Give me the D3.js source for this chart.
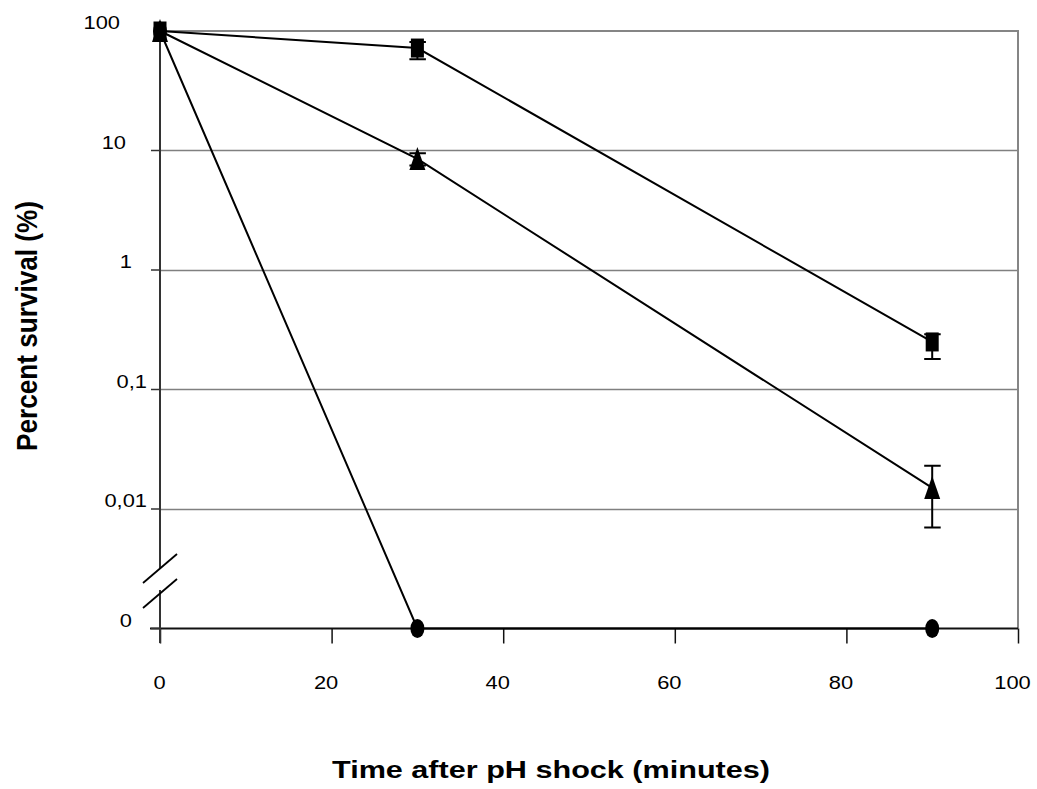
<!DOCTYPE html>
<html>
<head>
<meta charset="utf-8">
<script src="https://cdn.jsdelivr.net/npm/d3@7/dist/d3.min.js"></script>
<style>
  html, body { margin: 0; padding: 0; background: #fff; }
  svg { display: block; font-family: "Liberation Sans", Arial, sans-serif; }
</style>
</head>
<body>
<svg id="chart" width="1037" height="789"></svg>
<script>
// Time points (minutes after the pH shock)
const timeMin = [0, 30, 90];

// Survival (%) per strain, with upper / lower error bounds (null = no bar)
const squareSurvival   = [100, 72, 0.25];
const squareErrHigh    = [null, 81, 0.29];
const squareErrLow     = [null, 58, 0.18];

const triangleSurvival = [100, 8.5, 0.015];
const triangleErrHigh  = [null, 9.5, 0.023];
const triangleErrLow   = [null, 7.5, 0.007];

const circleSurvival   = [100, 0, 0];

// Axis ticks
const xTickValues = [0, 20, 40, 60, 80, 100];
const yTickValues = [100, 10, 1, 0.1, 0.01, 0];
const yTickLabels = ["100", "10", "1", "0,1", "0,01", "0"];

// ---- layout ----
const svg = d3.select("#chart");
const plotLeft = 160, plotRight = 1018, plotTop = 31, plotBottom = 628.5;
const breakFloor = 0.001;   // zero is drawn one decade below 0.01, past the axis break

const x = d3.scaleLinear().domain([0, 100]).range([plotLeft, plotRight]);
const yLog = d3.scaleLog().domain([breakFloor, 100]).range([plotBottom, plotTop]);
const y = v => (v > 0 ? yLog(v) : yLog(breakFloor));

// widen glyphs horizontally
function stretch(sel, k) {
  sel.each(function () {
    const w = this.getComputedTextLength();
    this.setAttribute("textLength", w * k);
    this.setAttribute("lengthAdjust", "spacingAndGlyphs");
  });
}

// gridlines (decades above the break)
svg.append("g").selectAll("line")
  .data(yTickValues.filter(v => v > 0 && v < 100))
  .join("line")
  .attr("x1", plotLeft).attr("x2", plotRight)
  .attr("y1", d => Math.round(y(d)) + 0.5).attr("y2", d => Math.round(y(d)) + 0.5)
  .attr("stroke", "#808080").attr("stroke-width", 1.5);

// plot frame: top and right
svg.append("path")
  .attr("d", `M${plotLeft},${plotTop}H${plotRight}V${plotBottom}`)
  .attr("fill", "none").attr("stroke", "#858585").attr("stroke-width", 2);

// bottom axis
const xAxis = d3.axisBottom(x).tickValues(xTickValues).tickSize(15).tickPadding(32)
  .tickFormat(d3.format("d"));
const gx = svg.append("g").attr("transform", `translate(0,${plotBottom})`).call(xAxis);
gx.select(".domain").attr("d", `M150,0H${plotRight}`).attr("stroke", "#111").attr("stroke-width", 2);
gx.selectAll(".tick line").attr("stroke", "#111").attr("stroke-width", 1.5);
gx.selectAll(".tick text")
  .attr("font-size", 19).attr("fill", "#000")
  .attr("font-family", "Liberation Sans, Arial, sans-serif")
  .attr("dx", d => (d === 0 ? -1 : -6))
  .call(stretch, 1.15);

// left axis with a break between 0,01 and 0
const breakTop = 568, breakBottom = 590;
svg.append("path")
  .attr("d", `M${plotLeft},${plotTop}V${breakTop}M${plotLeft},${breakBottom}V643`)
  .attr("stroke", "#333").attr("stroke-width", 2).attr("fill", "none");
svg.append("g").selectAll("line")
  .data(yTickValues.filter(v => v < 100))
  .join("line")
  .attr("x1", 151).attr("x2", plotLeft)
  .attr("y1", d => y(d)).attr("y2", d => y(d))
  .attr("stroke", "#333").attr("stroke-width", 1.5);
// break marks
svg.append("g").selectAll("line")
  .data([0, 25])
  .join("line")
  .attr("x1", 143).attr("x2", 177)
  .attr("y1", d => 583 + d).attr("y2", d => 554 + d)
  .attr("stroke", "#000").attr("stroke-width", 1.8);

// y tick labels
const labelRight = { "100": 120, "10": 126, "1": 132, "0,1": 147, "0,01": 147, "0": 132 };
svg.append("g").selectAll("text")
  .data(yTickValues.map((v, i) => ({ v, label: yTickLabels[i] })))
  .join("text")
  .attr("x", d => labelRight[d.label])
  .attr("y", d => y(d.v) - 2)
  .attr("text-anchor", "end")
  .attr("font-size", 19)
  .text(d => d.label)
  .call(stretch, 1.15);

// series
const series = [
  { values: squareSurvival, hi: squareErrHigh, lo: squareErrLow, shape: "square" },
  { values: triangleSurvival, hi: triangleErrHigh, lo: triangleErrLow, shape: "triangle" },
  { values: circleSurvival, hi: null, lo: null, shape: "circle" }
];

const line = d3.line().x(d => x(d.t)).y(d => y(d.v));
const gSeries = svg.append("g");

series.forEach(s => {
  const pts = timeMin.map((t, i) => ({ t, v: s.values[i], hi: s.hi ? s.hi[i] : null, lo: s.lo ? s.lo[i] : null }));
  gSeries.append("path")
    .datum(pts)
    .attr("d", line)
    .attr("fill", "none").attr("stroke", "#000").attr("stroke-width", 2);
  s.pts = pts;
});

series.forEach(s => {
  const g = gSeries.append("g");
  // markers
  const m = g.selectAll(".m").data(s.pts).join("g")
    .attr("transform", d => `translate(${x(d.t)},${y(d.v)})`);
  if (s.shape === "square") {
    m.append("rect").attr("x", -6.5).attr("y", -9.5).attr("width", 13).attr("height", 19).attr("fill", "#000");
  } else if (s.shape === "triangle") {
    m.append("path").attr("d", "M0,-12L8,11L-8,11Z").attr("fill", "#000");
  } else {
    m.append("ellipse").attr("rx", 7).attr("ry", 9.5).attr("fill", "#000");
  }
  // error bars
  const eb = s.pts.filter(d => d.hi != null);
  g.selectAll(".eb").data(eb).join("path")
    .attr("d", d => {
      const cx = x(d.t), yh = y(d.hi), yl = y(d.lo);
      return `M${cx},${yh}V${yl}M${cx - 0.5},${yh}h9M${cx - 0.5},${yl}h9M${cx},${yh}h-8M${cx},${yl}h-8`;
    })
    .attr("fill", "none").attr("stroke", "#000").attr("stroke-width", 2);
});

// axis titles
svg.append("text")
  .attr("x", 551).attr("y", 778)
  .attr("text-anchor", "middle")
  .attr("font-size", 23).attr("font-weight", "bold")
  .attr("textLength", 438).attr("lengthAdjust", "spacingAndGlyphs")
  .text("Time after pH shock (minutes)");

svg.append("text")
  .attr("transform", "translate(37,326) rotate(-90)")
  .attr("text-anchor", "middle")
  .attr("font-size", 30).attr("font-weight", "bold")
  .attr("textLength", 250).attr("lengthAdjust", "spacingAndGlyphs")
  .text("Percent survival (%)");
</script>
</body>
</html>
